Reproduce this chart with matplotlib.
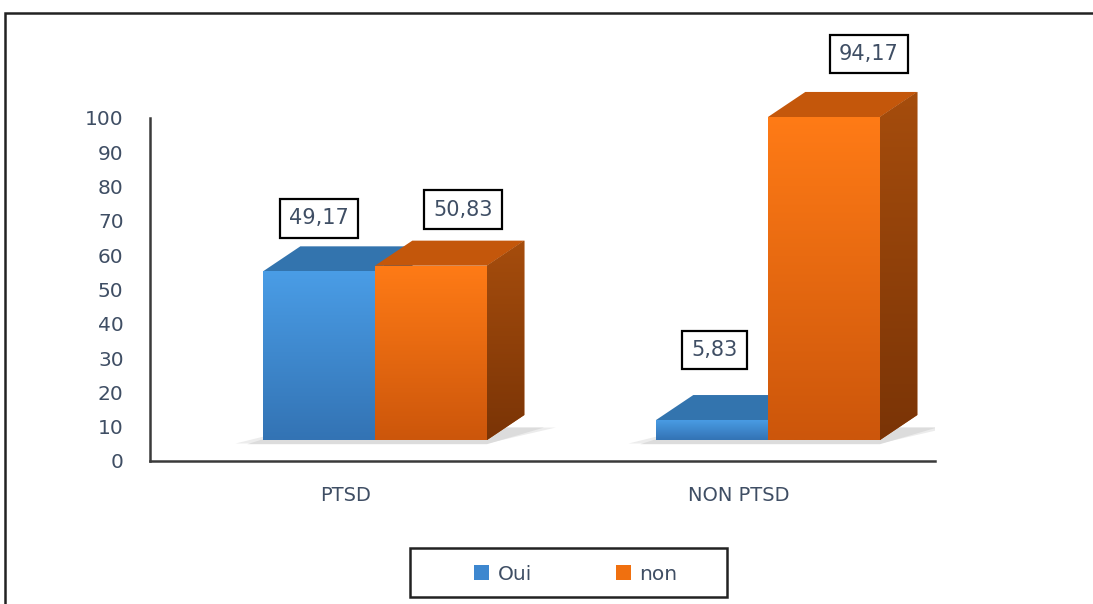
import numpy as np
import matplotlib
matplotlib.use('Agg')
import matplotlib.pyplot as plt
from matplotlib.patches import Polygon, Rectangle, Patch
from matplotlib.colors import LinearSegmentedColormap

# data
categories = ['PTSD', 'NON PTSD']
series = ['Oui', 'non']
oui = [49.17, 5.83]
non = [50.83, 94.17]
oui_labels = ['49,17', '5,83']
non_labels = ['50,83', '94,17']
yticks = list(range(0, 101, 10))

# style
front_cols = {'Oui': ('#4a9de6', '#3373b4'), 'non': ('#ff7b16', '#cc560b')}
top_cols = {'Oui': '#3374ae', 'non': '#c4570b'}
side_cols = {'Oui': ('#2e6399', '#22507e'), 'non': ('#a64d0d', '#7a3406')}
legend_cols = {'Oui': '#3d87cf', 'non': '#f0700f'}
txt = '#3f4e64'

W = 0.285          # bar width
DX, DY = 0.095, 7.3  # fake 3d depth
BASE = 6.1         # floor offset of the bars
# label offsets in pixels (dx, dy) from the front top centre
off_oui = [(0, 53), (3, 70)]
off_non = [(32, 56), (45, 63)]

plt.rcParams['font.family'] = ['DejaVu Sans']

fig = plt.figure(figsize=(10.93, 6.04), dpi=100)
ax = fig.add_axes([150 / 1093, 143 / 604, 785 / 1093, 446 / 604])


def grad(ax, patch, c_top, c_bot, ext, z):
    cmap = LinearSegmentedColormap.from_list('g', [c_bot, c_top])
    g = np.linspace(0, 1, 256).reshape(-1, 1)
    im = ax.imshow(g, cmap=cmap, origin='lower', extent=ext, aspect='auto',
                   interpolation='bilinear', zorder=z)
    im.set_clip_path(patch)


def bar3d(ax, rect, name, z):
    x0, y0 = rect.get_x(), rect.get_y()
    w, h = rect.get_width(), rect.get_height()
    x1, y1 = x0 + w, y0 + h
    rect.set_zorder(z)
    grad(ax, rect, *front_cols[name], [x0, x1, y0, y1], z + 0.05)
    top = Polygon([(x0, y1), (x1, y1), (x1 + DX, y1 + DY), (x0 + DX, y1 + DY)],
                  closed=True, fc=top_cols[name], ec='none', zorder=z)
    ax.add_patch(top)
    side = Polygon([(x1, y0), (x1 + DX, y0 + DY), (x1 + DX, y1 + DY), (x1, y1)],
                   closed=True, fc=side_cols[name][0], ec='none', zorder=z)
    ax.add_patch(side)
    grad(ax, side, *side_cols[name], [x1, x1 + DX, y0, y1 + DY], z + 0.05)


xs = np.arange(len(categories))

# floor shadows
for x in xs:
    for k, c in enumerate(['#ececec', '#dcdcdc']):
        e = 0.03 * (1 - k)
        sh = Polygon([(x - W - 0.04 - e, BASE - 1.0 - k * 0.2), (x + W, BASE - 1.0 - k * 0.2),
                      (x + W + DX + 0.05 + e, BASE + DY * 0.5), (x - W + DX, BASE + DY * 0.5)],
                     closed=True, fc=c, ec='none', zorder=1 + k * 0.1)
        ax.add_patch(sh)

bars_oui = ax.bar(xs - W, oui, width=W, bottom=BASE, align='edge', color=front_cols['Oui'][0])
bars_non = ax.bar(xs, non, width=W, bottom=BASE, align='edge', color=front_cols['non'][0])
for r in bars_oui:
    bar3d(ax, r, 'Oui', 2)
for r in bars_non:
    bar3d(ax, r, 'non', 3)

box = dict(boxstyle='square,pad=0.45', fc='white', ec='black', lw=1.6)
for r, lab, off in zip(bars_oui, oui_labels, off_oui):
    ax.annotate(lab, (r.get_x() + r.get_width() / 2, r.get_y() + r.get_height()),
                xytext=off, textcoords='offset pixels', ha='center', va='center',
                fontsize=15, color=txt, bbox=box, zorder=5)
for r, lab, off in zip(bars_non, non_labels, off_non):
    ax.annotate(lab, (r.get_x() + r.get_width() / 2, r.get_y() + r.get_height()),
                xytext=off, textcoords='offset pixels', ha='center', va='center',
                fontsize=15, color=txt, bbox=box, zorder=5)

ax.set_xlim(-0.5725, 1.425)
ax.set_ylim(0, 130)
ax.set_yticks(yticks)
ax.set_xticks(xs - 0.074)
ax.set_xticklabels(categories)
ax.tick_params(axis='y', length=0, pad=19, labelsize=14.5, labelcolor=txt)
ax.tick_params(axis='x', length=0, pad=18, labelsize=14, labelcolor=txt)
for s in ['top', 'right']:
    ax.spines[s].set_visible(False)
for s in ['left', 'bottom']:
    ax.spines[s].set_color('#3a3a3a')
    ax.spines[s].set_linewidth(1.8)
ax.spines['left'].set_bounds(0, 100)
ax.patch.set_alpha(0)

# legend
handles = [Patch(fc=legend_cols[s], ec='none', label=s) for s in series]
fig.legend(handles=handles, loc='center', bbox_to_anchor=(576 / 1093, 1 - 574 / 604),
           ncol=2, frameon=False, fontsize=14.5, handlelength=0.75, handleheight=0.7,
           handletextpad=0.4, columnspacing=4.2, labelcolor=txt)
fig.patches.append(Rectangle((410 / 1093, 1 - 597 / 604), 317 / 1093, 49 / 604,
                             transform=fig.transFigure, fill=False, ec='#222222', lw=1.8))

# outer chart frame
fig.patches.append(Rectangle((5 / 1093, -0.1), 1.2, 1.1 - 13 / 604,
                             transform=fig.transFigure, fill=False, ec='#222222', lw=1.8))

fig.savefig('out.png', dpi=100)
